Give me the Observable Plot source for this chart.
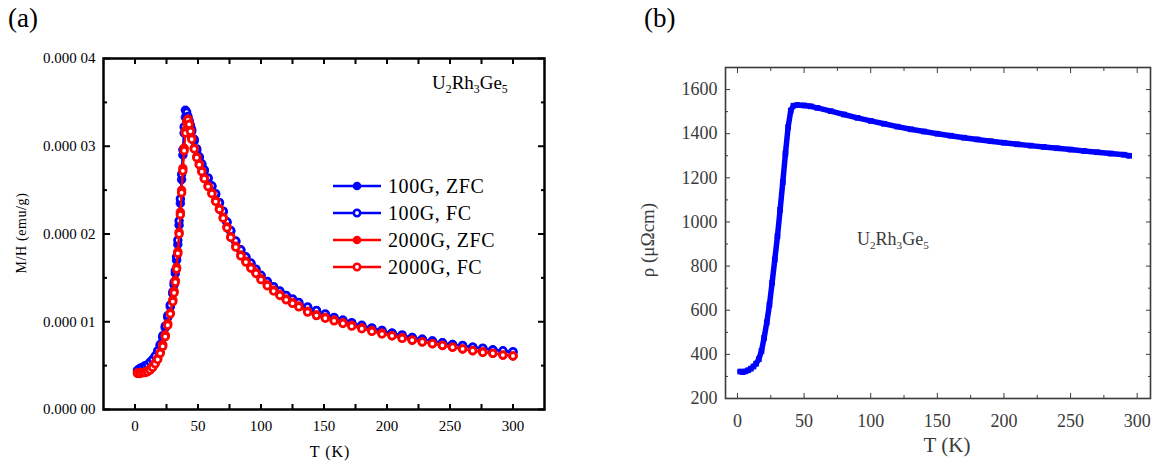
<!DOCTYPE html>
<html>
<head>
<meta charset="utf-8">
<script src="https://cdn.jsdelivr.net/npm/d3@7"></script>
<script src="https://cdn.jsdelivr.net/npm/@observablehq/plot@0.6"></script>
<style>
  body { margin: 0; background: #fff; }
  #fig { position: relative; width: 1154px; height: 468px; font-family: "Liberation Serif", serif; overflow: hidden; }
  #fig .panel { position: absolute; top: 0; }
  #fig .lbl { position: absolute; white-space: nowrap; line-height: 1; font-family: "Liberation Serif", serif; }
  #fig sub { font-size: 62%; vertical-align: -0.35em; line-height: 0; }
  #fig svg text { font-family: "Liberation Serif", serif; }
</style>
</head>
<body>
<div id="fig"></div>
<script>
// ---------- (a) magnetic susceptibility M/H vs T ----------
// temperatures (K)
const tempsMag = [2,4,6,8,10,12,14,16,18,20,22,24,26,28,30,
  31,32,33,34,35,36,37,38,39,40,41,42,43,44,45,
  47,49,51,53,55,58,61,64,67,70,73,76,
  80,84,88,92,96,100,105,110,115,120,125,130,
  137,144,151,158,165,172,
  180,188,196,204,212,220,228,236,244,252,260,268,276,284,292,300];

// M/H in units of 1e-5 emu/g
const zfc100 = [0.45,0.47,0.48,0.49,0.50,0.53,0.56,0.60,0.66,0.73,0.82,0.93,1.05,1.17,1.32,
  1.42,1.55,1.70,1.88,2.10,2.35,2.62,2.90,3.15,3.33,3.36,3.32,3.27,3.22,3.17,
  3.06,2.95,2.87,2.79,2.72,2.63,2.54,2.45,2.35,2.25,2.13,2.03,
  1.91,1.81,1.73,1.66,1.59,1.52,1.45,1.39,1.34,1.29,1.25,1.21,
  1.16,1.12,1.08,1.04,1.01,0.98,
  0.95,0.92,0.90,0.87,0.84,0.82,0.80,0.78,0.76,0.74,0.72,0.71,0.69,0.68,0.66,0.65];
const fc100 = [0.44,0.46,0.48,0.50,0.51,0.54,0.57,0.61,0.67,0.74,0.84,0.95,1.07,1.19,1.34,
  1.45,1.58,1.74,1.93,2.15,2.40,2.68,2.96,3.22,3.41,3.39,3.34,3.29,3.24,3.19,
  3.08,2.97,2.88,2.80,2.73,2.64,2.55,2.46,2.36,2.26,2.14,2.04,
  1.92,1.82,1.74,1.67,1.60,1.53,1.46,1.40,1.35,1.30,1.26,1.22,
  1.17,1.13,1.09,1.05,1.02,0.99,
  0.96,0.93,0.90,0.87,0.85,0.82,0.80,0.78,0.76,0.74,0.73,0.71,0.70,0.68,0.67,0.66];
const zfc2000 = [0.42,0.42,0.42,0.43,0.44,0.46,0.49,0.53,0.58,0.65,0.74,0.85,0.98,1.10,1.25,
  1.35,1.47,1.62,1.80,2.02,2.25,2.50,2.75,2.98,3.18,3.28,3.31,3.26,3.18,3.10,
  2.98,2.88,2.80,2.72,2.64,2.55,2.47,2.38,2.29,2.19,2.08,1.97,
  1.86,1.76,1.69,1.62,1.56,1.49,1.42,1.36,1.31,1.26,1.22,1.18,
  1.12,1.08,1.05,1.02,0.99,0.96,
  0.93,0.90,0.87,0.84,0.82,0.79,0.77,0.75,0.73,0.71,0.69,0.67,0.66,0.64,0.62,0.61];
const fc2000 = [0.41,0.41,0.42,0.42,0.43,0.45,0.48,0.52,0.57,0.64,0.72,0.83,0.96,1.09,1.23,
  1.33,1.45,1.60,1.78,2.00,2.22,2.47,2.72,2.95,3.15,3.27,3.30,3.25,3.17,3.08,
  2.97,2.87,2.79,2.71,2.63,2.54,2.46,2.37,2.28,2.18,2.07,1.96,
  1.85,1.75,1.68,1.61,1.55,1.48,1.41,1.35,1.30,1.25,1.21,1.17,
  1.11,1.07,1.04,1.01,0.98,0.95,
  0.92,0.89,0.86,0.84,0.81,0.79,0.77,0.75,0.73,0.71,0.69,0.67,0.65,0.64,0.62,0.61];

const seriesNamesA = ["100G, ZFC", "100G, FC", "2000G, ZFC", "2000G, FC"];
const seriesValuesA = [zfc100, fc100, zfc2000, fc2000];
const seriesColorsA = ["#0000ff", "#0000ff", "#ff0000", "#ff0000"];
const seriesFilledA = [true, false, true, false];

const xTicksA = [0, 50, 100, 150, 200, 250, 300];
const xMinorA = [25, 75, 125, 175, 225, 275];
const yTicksA = [0, 1e-5, 2e-5, 3e-5, 4e-5];
const yTickLabelsA = ["0.000 00", "0.000 01", "0.000 02", "0.000 03", "0.000 04"];
const yMinorA = [0.5e-5, 1.5e-5, 2.5e-5, 3.5e-5];

// ---------- (b) electrical resistivity vs T ----------
const tempsRho = [2,4,6,8,10,12,14,16,18,20,22,24,26,28,30,32,34,36,38,40,42,45,50,55,60,
  70,80,90,100,110,120,130,140,150,160,170,180,190,200,210,220,230,240,250,260,270,280,290,294];
const rho = [322,320,323,328,335,345,358,378,415,475,545,625,725,830,935,1055,1180,1310,1430,1505,1527,1530,1528,1524,1517,
  1502,1487,1472,1458,1445,1432,1420,1410,1400,1391,1382,1374,1366,1359,1352,1346,1340,1334,1328,1322,1316,1310,1305,1300];

const xTicksB = [0, 50, 100, 150, 200, 250, 300];
const xMinorB = [25, 75, 125, 175, 225, 275];
const yTicksB = [200, 400, 600, 800, 1000, 1200, 1400, 1600];
const yMinorB = [300, 500, 700, 900, 1100, 1300, 1500, 1700];

// ---------- build ----------
const fig = document.getElementById("fig");
const serif = "Liberation Serif";
const blank = () => "";

function addLabel(html, css) {
  const d = document.createElement("div");
  d.className = "lbl";
  d.innerHTML = html;
  Object.assign(d.style, css);
  fig.appendChild(d);
  return d;
}

// panel (a)
const rowsA = [];
seriesNamesA.forEach((name, s) => {
  seriesValuesA[s].forEach((v, i) => rowsA.push({series: name, T: tempsMag[i], M: v * 1e-5}));
});
const yLabelMapA = new Map(yTicksA.map((t, i) => [t, yTickLabelsA[i]]));

const marksA = [];
seriesNamesA.forEach((name, s) => {
  const data = rowsA.filter(r => r.series === name);
  marksA.push(Plot.line(data, {x: "T", y: "M", stroke: seriesColorsA[s], strokeWidth: 2}));
  marksA.push(seriesFilledA[s]
    ? Plot.dot(data, {x: "T", y: "M", r: 4.3, fill: seriesColorsA[s], stroke: seriesColorsA[s], strokeWidth: 0.8})
    : Plot.dot(data, {x: "T", y: "M", r: 3.3, fill: "#fff", stroke: seriesColorsA[s], strokeWidth: 2.8}));
});

const axA = {fontFamily: serif, label: null, strokeWidth: 2};
const plotA = Plot.plot({
  width: 577, height: 468,
  marginLeft: 103, marginRight: 33, marginTop: 58, marginBottom: 59,
  x: {domain: [-25, 325], label: null},
  y: {domain: [0, 4e-5], label: null},
  style: {fontFamily: serif, fontSize: "15px", color: "#000", background: "transparent", overflow: "visible"},
  marks: [
    ...marksA,
    Plot.axisX({...axA, ticks: xTicksA, tickSize: -5, tickPadding: 16, tickFormat: d => String(d), fontSize: 15}),
    Plot.axisX({...axA, ticks: xMinorA, tickSize: -5, tickFormat: blank}),
    Plot.axisX({...axA, anchor: "top", ticks: xTicksA, tickSize: -5, tickFormat: blank}),
    Plot.axisX({...axA, anchor: "top", ticks: xMinorA, tickSize: -5, tickFormat: blank}),
    Plot.axisY({...axA, ticks: yTicksA, tickSize: -7, tickPadding: 15, tickFormat: d => yLabelMapA.get(d), fontSize: 15}),
    Plot.axisY({...axA, ticks: yMinorA, tickSize: -4, tickFormat: blank}),
    Plot.axisY({...axA, anchor: "right", ticks: yTicksA, tickSize: -7, tickFormat: blank}),
    Plot.axisY({...axA, anchor: "right", ticks: yMinorA, tickSize: -4, tickFormat: blank}),
    Plot.frame({stroke: "#000", strokeWidth: 2.5})
  ]
});
plotA.classList.add("panel");
plotA.style.left = "0px";
fig.appendChild(plotA);

// panel (b)
const rowsB = tempsRho.map((t, i) => ({T: t, rho: rho[i]}));
const grayB = "#3a3a3a";
const axB = {fontFamily: serif, label: null, stroke: grayB};
const plotB = Plot.plot({
  width: 577, height: 468,
  marginLeft: 148, marginRight: 4, marginTop: 67, marginBottom: 70,
  x: {domain: [-9, 310], label: null},
  y: {domain: [200, 1700], label: null},
  style: {fontFamily: serif, fontSize: "18px", color: grayB, background: "transparent", overflow: "visible"},
  marks: [
    Plot.line(rowsB, {x: "T", y: "rho", stroke: "#0000ff", strokeWidth: 5.5, strokeLinejoin: "round"}),
    Plot.dot(rowsB, {x: "T", y: "rho", symbol: "square", r: 3.2, fill: "#0000ff"}),
    Plot.axisX({...axB, ticks: xTicksB, tickSize: -5, tickPadding: 21, tickFormat: d => String(d), fontSize: 18}),
    Plot.axisX({...axB, ticks: xMinorB, tickSize: -3, tickFormat: blank}),
    Plot.axisX({...axB, anchor: "top", ticks: xTicksB, tickSize: -5, tickFormat: blank}),
    Plot.axisX({...axB, anchor: "top", ticks: xMinorB, tickSize: -3, tickFormat: blank}),
    Plot.axisY({...axB, ticks: yTicksB, tickSize: -5, tickPadding: 13, tickFormat: d => String(d), fontSize: 18}),
    Plot.axisY({...axB, ticks: yMinorB, tickSize: -3, tickFormat: blank}),
    Plot.axisY({...axB, anchor: "right", ticks: yTicksB, tickSize: -5, tickFormat: blank}),
    Plot.axisY({...axB, anchor: "right", ticks: yMinorB, tickSize: -3, tickFormat: blank}),
    Plot.frame({stroke: grayB, strokeWidth: 1.6})
  ]
});
plotB.classList.add("panel");
plotB.style.left = "577px";
fig.appendChild(plotB);

// panel tags, axis titles and compound labels
addLabel("(a)", {left: "8px", top: "5px", fontSize: "27px", color: "#000"});
addLabel("(b)", {left: "644px", top: "5px", fontSize: "27px", color: "#000"});

addLabel("M/H (emu/g)", {left: "22px", top: "233px", fontSize: "14px", color: "#000",
  transform: "translate(-50%, -50%) rotate(-90deg)", letterSpacing: "0.6px"});
addLabel("T (K)", {left: "330px", top: "452px", fontSize: "16px", color: "#000",
  transform: "translate(-50%, -50%)", letterSpacing: "1px"});
addLabel("ρ (μΩcm)", {left: "647px", top: "240px", fontSize: "19px", color: grayB,
  transform: "translate(-50%, -50%) rotate(-90deg)"});
addLabel("T (K)", {left: "947px", top: "445px", fontSize: "21px", color: grayB,
  transform: "translate(-50%, -50%)"});

addLabel("U<sub>2</sub>Rh<sub>3</sub>Ge<sub>5</sub>", {left: "432px", top: "73px", fontSize: "19px", color: "#000"});
addLabel("U<sub>2</sub>Rh<sub>3</sub>Ge<sub>5</sub>", {left: "857px", top: "230px", fontSize: "18px", color: grayB});

// legend for panel (a)
const legendTop = 186, legendStep = 27;
seriesNamesA.forEach((name, s) => {
  const row = document.createElement("div");
  row.className = "lbl";
  Object.assign(row.style, {left: "333px", top: (legendTop + s * legendStep - 11) + "px", height: "22px",
    display: "flex", alignItems: "center", fontSize: "20px", color: "#000", letterSpacing: "0.6px"});
  const ns = "http://www.w3.org/2000/svg";
  const sw = document.createElementNS(ns, "svg");
  sw.setAttribute("width", "50"); sw.setAttribute("height", "22");
  sw.style.marginRight = "5px";
  const ln = document.createElementNS(ns, "line");
  ln.setAttribute("x1", "0"); ln.setAttribute("x2", "48"); ln.setAttribute("y1", "11"); ln.setAttribute("y2", "11");
  ln.setAttribute("stroke", seriesColorsA[s]); ln.setAttribute("stroke-width", "2.5");
  const c = document.createElementNS(ns, "circle");
  c.setAttribute("cx", "24"); c.setAttribute("cy", "11");
  if (seriesFilledA[s]) {
    c.setAttribute("r", "4.3"); c.setAttribute("fill", seriesColorsA[s]);
  } else {
    c.setAttribute("r", "3.2"); c.setAttribute("fill", "#fff");
    c.setAttribute("stroke", seriesColorsA[s]); c.setAttribute("stroke-width", "2.6");
  }
  sw.appendChild(ln); sw.appendChild(c);
  row.appendChild(sw);
  const tx = document.createElement("span");
  tx.textContent = name;
  row.appendChild(tx);
  fig.appendChild(row);
});
</script>
</body>
</html>
